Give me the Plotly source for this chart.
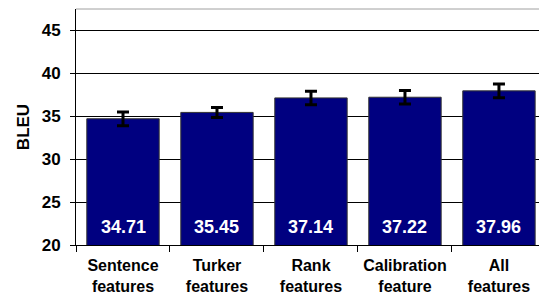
import plotly.graph_objects as go

categories = ["Sentence<br>features", "Turker<br>features", "Rank<br>features",
              "Calibration<br>feature", "All<br>features"]
bleu = [34.71, 35.45, 37.14, 37.22, 37.96]
errors = [0.80, 0.58, 0.79, 0.79, 0.81]
y_ticks = [20, 25, 30, 35, 40, 45]

FONT = "Liberation Sans, Arial, sans-serif"

fig = go.Figure()
fig.add_trace(go.Bar(
    x=categories, y=bleu,
    marker=dict(color="#000080", line=dict(color="#333333", width=1)),
    width=0.77,
    error_y=dict(type="data", array=errors, color="black", thickness=3, width=6),
    hoverinfo="skip",
))

for c, v in zip(categories, bleu):
    fig.add_annotation(x=c, y=20, text=f"{v:.2f}", showarrow=False,
                       yanchor="middle", yshift=18,
                       font=dict(family=FONT, size=18, color="white", weight="bold"))

fig.add_shape(type="line", xref="paper", yref="paper", x0=0, x1=1, y0=1, y1=1,
              line=dict(color="#a0a0a0", width=1))

fig.update_layout(
    width=539, height=297,
    margin=dict(l=76, r=0, t=9, b=52),
    paper_bgcolor="white", plot_bgcolor="white",
    showlegend=False,
    font=dict(family=FONT, color="black"),
    xaxis=dict(
        range=[-0.5, 4.426],
        showline=True, linecolor="black", linewidth=1,
        ticks="outside", tickson="boundaries", ticklen=6, tickcolor="black",
        showgrid=False,
        tickfont=dict(family=FONT, size=16, color="black", weight="bold"),
        ticklabelstandoff=6,
        automargin=False,
    ),
    yaxis=dict(
        range=[20, 47.5],
        tickvals=y_ticks,
        showline=True, linecolor="black", linewidth=1,
        ticks="outside", ticklen=5, tickcolor="black",
        showgrid=True, gridcolor="#000000", gridwidth=1,
        zeroline=False,
        tickfont=dict(family=FONT, size=17, color="black", weight="bold"),
        ticklabelstandoff=6,
        automargin=False,
        title=dict(text="BLEU", font=dict(family=FONT, size=17, color="black", weight="bold"),
                   standoff=7),
    ),
)

fig.write_html("out.html", config={"displayModeBar": False},
               post_script="document.body.style.margin='0';document.body.style.overflow='hidden';")
